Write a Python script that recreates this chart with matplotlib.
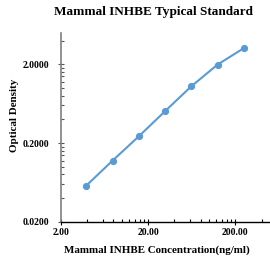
import matplotlib
matplotlib.use("Agg")
import matplotlib.pyplot as plt
from matplotlib.ticker import FixedLocator, FixedFormatter, NullFormatter
import numpy as np

title = "Mammal INHBE Typical Standard"
xlabel = "Mammal INHBE Concentration(ng/ml)"
ylabel = "Optical Density"
conc = [3.91, 7.81, 15.63, 31.25, 62.5, 125, 250]
od = [0.058, 0.120, 0.244, 0.508, 1.05, 1.98, 3.2]
xticks = [2, 20, 200]
xticklabels = ["2.00", "20.00", "200.00"]
yticks = [0.02, 0.2, 2.0]
yticklabels = ["0.0200", "0.2000", "2.0000"]

plt.rcParams['font.family'] = ['Liberation Serif', 'DejaVu Serif']
plt.rcParams['font.weight'] = 'bold'

fig = plt.figure(figsize=(2.70, 2.59), dpi=100)
ax = fig.add_axes([0.226, 0.143, 0.774, 0.730])
ax.plot(conc, od, color='#5B9BD5', lw=1.5, marker='o', ms=4.2, zorder=3)
ax.set_xscale('log')
ax.set_yscale('log')
ax.set_xlim(2, 500)
ax.set_ylim(0.02, 5.0)

ax.xaxis.set_major_locator(FixedLocator(xticks))
ax.xaxis.set_major_formatter(FixedFormatter(xticklabels))
xminor = [k * t for t in xticks for k in range(2, 10)]
ax.xaxis.set_minor_locator(FixedLocator(xminor))
ax.xaxis.set_minor_formatter(NullFormatter())
ax.yaxis.set_major_locator(FixedLocator(yticks))
ax.yaxis.set_major_formatter(FixedFormatter(yticklabels))
yminor = [k * t for t in yticks for k in range(2, 10)]
ax.yaxis.set_minor_locator(FixedLocator(yminor))
ax.yaxis.set_minor_formatter(NullFormatter())

for s in ['top', 'right']:
    ax.spines[s].set_visible(False)
ax.spines['left'].set_color('#7f7f7f')
ax.spines['left'].set_linewidth(1.2)
ax.spines['bottom'].set_color('#000000')
ax.spines['bottom'].set_linewidth(1.0)

ax.tick_params(axis='both', which='major', direction='inout', length=5, width=0.8, labelsize=7)
ax.tick_params(axis='x', which='major', pad=2)
ax.tick_params(axis='y', which='major', pad=6)
ax.tick_params(axis='both', which='minor', direction='in', length=2.5, width=0.8)
ax.tick_params(axis='y', which='both', colors='#555555', labelcolor='black')
for lab in ax.get_xticklabels() + ax.get_yticklabels():
    lab.set_fontweight('bold')

ax.set_xlabel(xlabel, fontsize=7.9, fontweight='bold')
ax.xaxis.set_label_coords(0.46, -0.125)
ax.set_ylabel(ylabel, fontsize=7.9, fontweight='bold')
ax.yaxis.set_label_coords(-0.20, 0.565)
fig.text(0.57, 0.952, title, ha='center', va='center', fontsize=9.5, fontweight='bold')

fig.savefig('out.png', dpi=100)
